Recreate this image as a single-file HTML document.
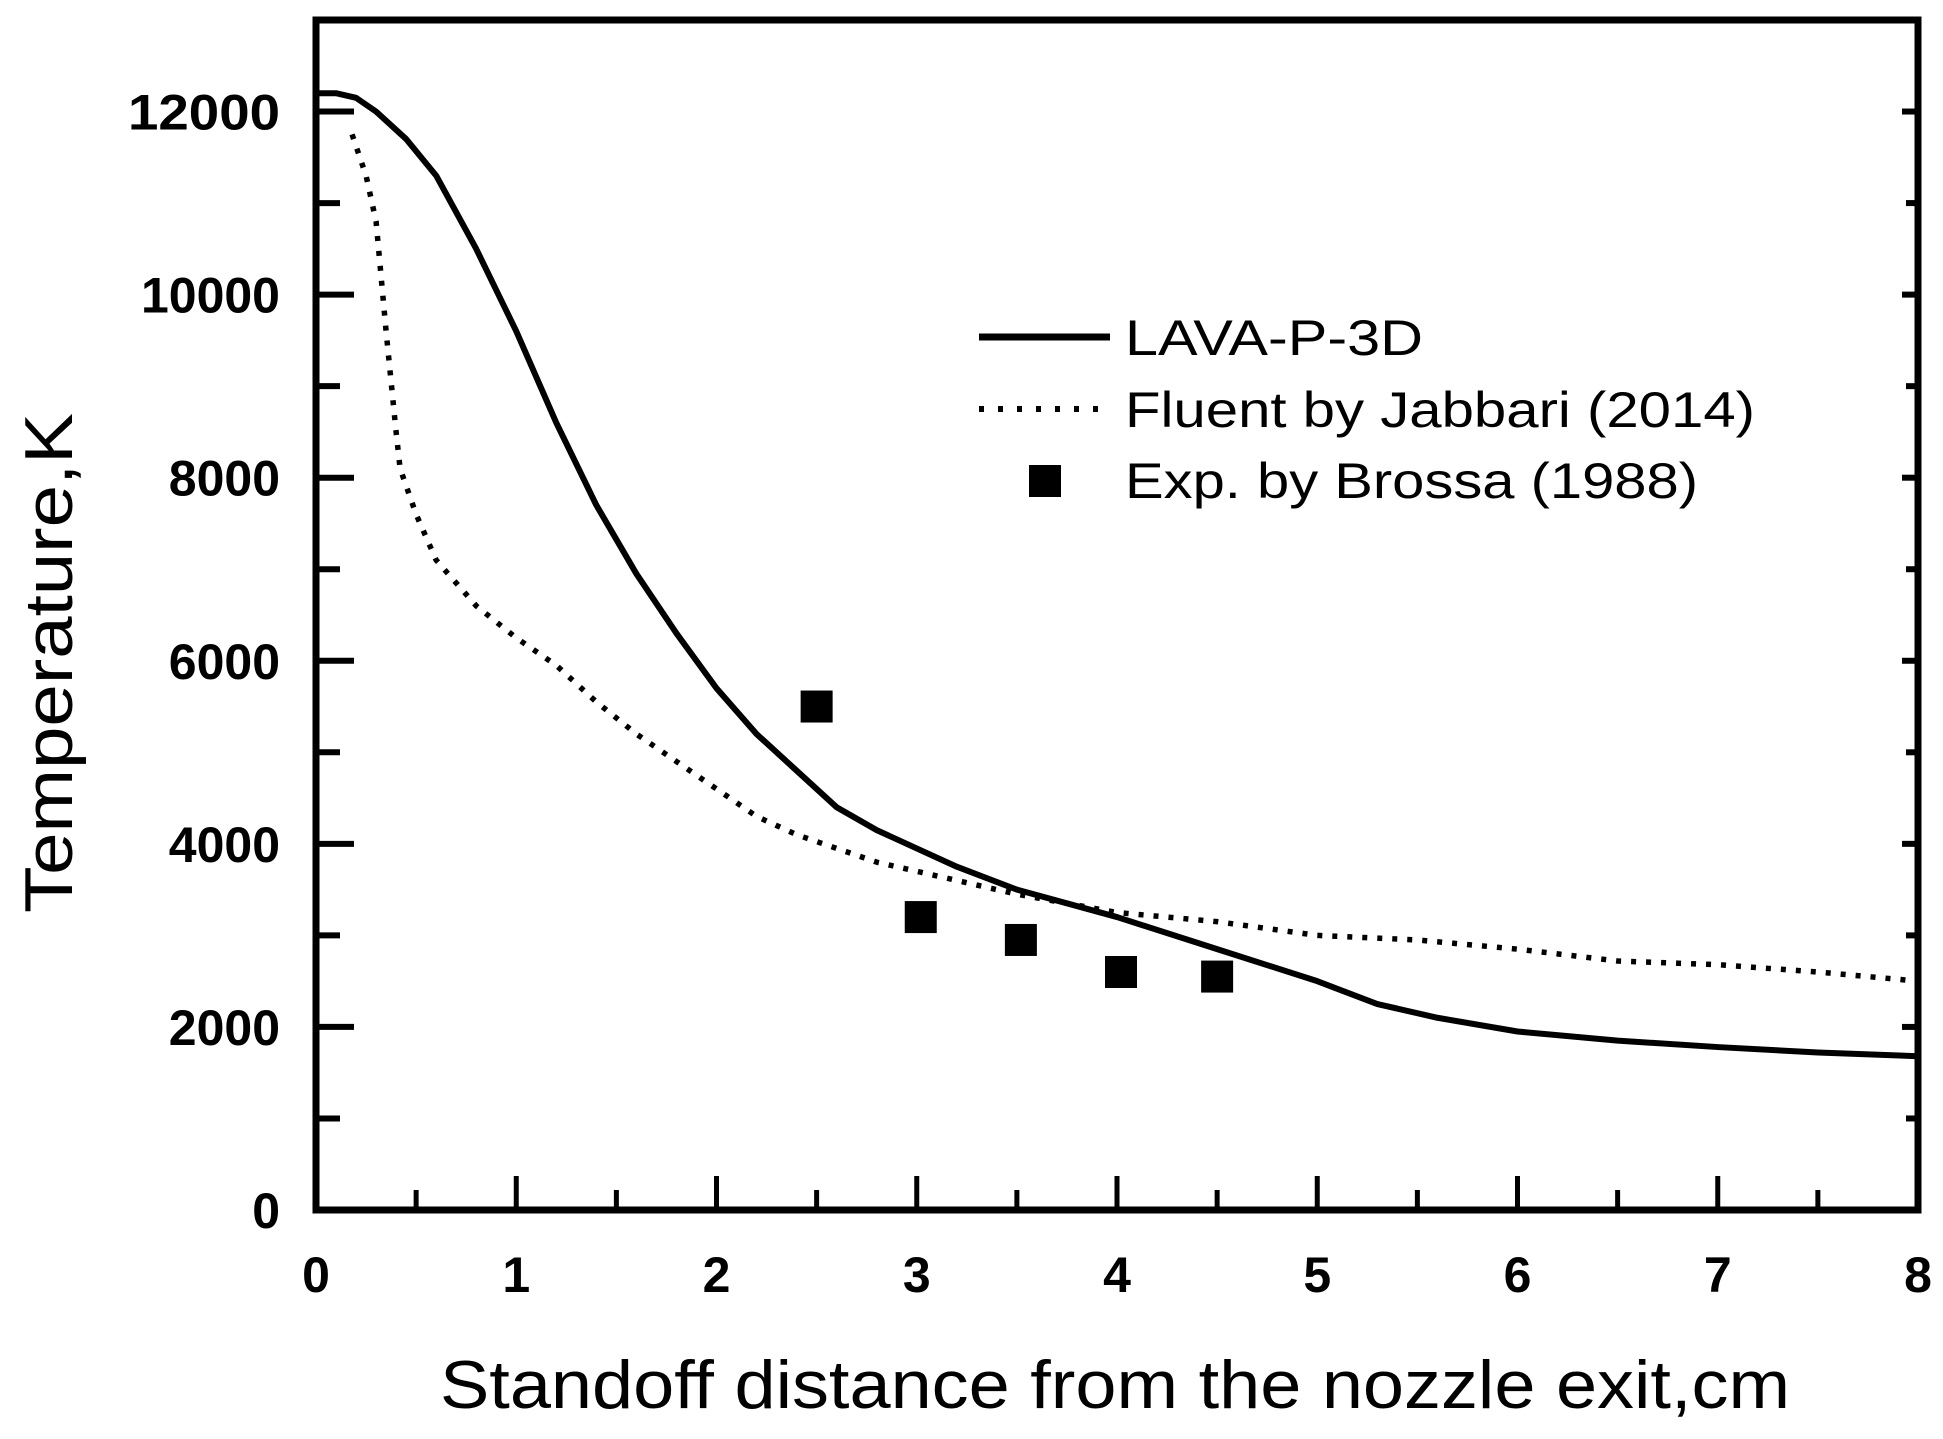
<!DOCTYPE html>
<html><head><meta charset="utf-8"><style>
html,body{margin:0;padding:0;background:#fff;}
svg{display:block;font-family:"Liberation Sans",Arial,sans-serif;}
</style></head><body>
<svg id="chart" width="1943" height="1439" viewBox="0 0 1943 1439" xmlns="http://www.w3.org/2000/svg">
<g id="ticks"></g>
<g id="series"></g>
<rect x="316" y="20" width="1602" height="1190" fill="none" stroke="#000" stroke-width="7"/>
<text x="1115" y="1408" font-size="68" text-anchor="middle" textLength="1350" lengthAdjust="spacingAndGlyphs">Standoff distance from the nozzle exit,cm</text>
<text transform="translate(72,663) rotate(-90)" font-size="68" text-anchor="middle" textLength="500" lengthAdjust="spacingAndGlyphs">Temperature,K</text>
<g>
 <line x1="979" y1="337" x2="1110" y2="337" stroke="#000" stroke-width="7"/>
 <text x="1125" y="355" font-size="50" textLength="298" lengthAdjust="spacingAndGlyphs">LAVA-P-3D</text>
 <line x1="979" y1="409" x2="1110" y2="409" stroke="#000" stroke-width="6" stroke-dasharray="5 14"/>
 <text x="1125" y="427" font-size="50" textLength="630" lengthAdjust="spacingAndGlyphs">Fluent by Jabbari (2014)</text>
 <rect x="1029" y="465" width="32" height="32" fill="#000"/>
 <text x="1125" y="498" font-size="50" textLength="573" lengthAdjust="spacingAndGlyphs">Exp. by Brossa (1988)</text>
</g>
</svg>
<script>
const lavaX=[0,0.1,0.2,0.3,0.45,0.6,0.8,1.0,1.2,1.4,1.6,1.8,2.0,2.2,2.4,2.6,2.8,3.0,3.2,3.5,4.0,4.5,5.0,5.3,5.6,6.0,6.5,7.0,7.5,8.0];
const lavaY=[12200,12200,12150,12000,11700,11300,10500,9600,8600,7700,6950,6300,5700,5200,4800,4400,4150,3950,3750,3500,3200,2850,2500,2250,2100,1950,1850,1780,1720,1680];
const fluentX=[0.18,0.25,0.3,0.35,0.4,0.42,0.5,0.6,0.8,1.0,1.2,1.4,1.6,1.8,2.0,2.2,2.4,2.6,2.8,3.0,3.5,4.0,4.5,5.0,5.5,6.0,6.5,7.0,7.5,8.0];
const fluentY=[11750,11300,10800,9600,8500,8100,7600,7100,6600,6250,5950,5550,5200,4900,4600,4300,4100,3950,3800,3700,3450,3250,3150,3000,2950,2850,2720,2680,2600,2500];
const expX=[2.5,3.02,3.52,4.02,4.5];
const expY=[5500,3200,2950,2600,2550];
const xTicks=[0,1,2,3,4,5,6,7,8];
const yTicks=[0,2000,4000,6000,8000,10000,12000];
const NS="http://www.w3.org/2000/svg";
const X0=316,X1=1918,Y0=1210,Y1=20,XMAX=8,YMAX=13000;
function sx(v){return X0+(X1-X0)*v/XMAX;}
function sy(v){return Y0-(Y0-Y1)*v/YMAX;}
function mk(t,a,p){const e=document.createElementNS(NS,t);for(const k in a)e.setAttribute(k,a[k]);p.appendChild(e);return e;}
const tg=document.getElementById('ticks'),sg=document.getElementById('series');
for(let v=0;v<=XMAX+1e-9;v+=0.5){const maj=Math.abs(v-Math.round(v))<1e-9;
 const t=mk('line',{x1:sx(v),x2:sx(v),y1:Y0,y2:Y0-(maj?34:20),stroke:'#000','stroke-width':5},tg);
 
 }
for(let v=0;v<=12000;v+=1000){const maj=v%2000===0;
 [[X0,1,maj?38:24],[X1,-1,maj?16:12]].forEach(([x,d,L])=>{const t=mk('line',{x1:x,x2:x+d*L,y1:sy(v),y2:sy(v),stroke:'#000','stroke-width':6},tg);
 
 });}
xTicks.forEach(v=>{const t=mk('text',{x:sx(v),y:1292,'font-size':50,'font-weight':'bold','text-anchor':'middle'},tg);t.textContent=v;
 
 });
yTicks.forEach(v=>{const t=mk('text',{x:280,y:sy(v)+18,'font-size':50,'font-weight':'bold','text-anchor':'end'},tg);t.textContent=v;
 if(v===12000){t.setAttribute('textLength','152');t.setAttribute('lengthAdjust','spacingAndGlyphs');}
 
 });
const lp=mk('polyline',{points:lavaX.map((x,i)=>sx(x)+','+sy(lavaY[i])).join(' '),fill:'none',stroke:'#000','stroke-width':6,'stroke-linejoin':'round'},sg);


const fp=mk('polyline',{points:fluentX.map((x,i)=>sx(x)+','+sy(fluentY[i])).join(' '),fill:'none',stroke:'#000','stroke-width':5.5,'stroke-dasharray':'5 10'},sg);


expX.forEach((x,i)=>{const r=mk('rect',{x:sx(x)-16,y:sy(expY[i])-16,width:32,height:32,fill:'#000'},sg);
 
 });
</script>
</body></html>
